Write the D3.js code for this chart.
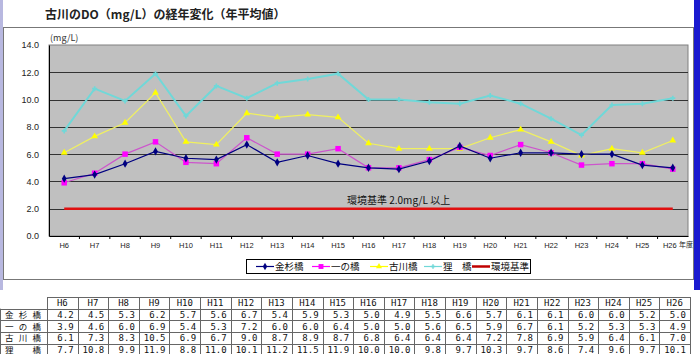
<!DOCTYPE html>
<html>
<head>
<meta charset="utf-8">
<style>
  body { margin: 0; background: #fff; font-family: "Noto Sans CJK JP", sans-serif; }
  svg { display: block; }
</style>
</head>
<body>
<div id="chart"></div>
<script src="https://d3js.org/d3.v7.min.js"></script>
<script>
// data
var years = ["H6","H7","H8","H9","H10","H11","H12","H13","H14","H15","H16","H17","H18","H19","H20","H21","H22","H23","H24","H25","H26"];
var kanasugi = [4.2,4.5,5.3,6.2,5.7,5.6,6.7,5.4,5.9,5.3,5.0,4.9,5.5,6.6,5.7,6.1,6.1,6.0,6.0,5.2,5.0];
var ichinohashi = [3.9,4.6,6.0,6.9,5.4,5.3,7.2,6.0,6.0,6.4,5.0,5.0,5.6,6.5,5.9,6.7,6.1,5.2,5.3,5.3,4.9];
var furukawa = [6.1,7.3,8.3,10.5,6.9,6.7,9.0,8.7,8.9,8.7,6.8,6.4,6.4,6.4,7.2,7.8,6.9,5.9,6.4,6.1,7.0];
var tanuki = [7.7,10.8,9.9,11.9,8.8,11.0,10.1,11.2,11.5,11.9,10.0,10.0,9.8,9.7,10.3,9.7,8.6,7.4,9.6,9.7,10.1];
var standard = 2.0;
var yTicks = [0,2,4,6,8,10,12,14];

var series = [
  { name: "金杉橋", values: kanasugi, line: "#000080", fill: "#000080", shape: "diamond" },
  { name: "一の橋", values: ichinohashi, line: "#cc55cc", fill: "#ff00ff", shape: "square" },
  { name: "古川橋", values: furukawa, line: "#f0f060", fill: "#ffff00", shape: "triangle" },
  { name: "狸　橋", values: tanuki, line: "#70d8d8", fill: "#70d8d8", shape: "star" }
];

var W = 700, H = 354;
var svg = d3.select("#chart").append("svg").attr("width", W).attr("height", H);

// background frames
svg.append("rect").attr("x", 0).attr("y", 0).attr("width", 3).attr("height", 290).attr("fill", "#b8b8e0");
svg.append("rect").attr("x", 694).attr("y", 0).attr("width", 6).attr("height", 290).attr("fill", "#1a1ad0");
svg.append("rect").attr("x", 3.5).attr("y", 27.5).attr("width", 690).attr("height", 252)
  .attr("fill", "#fff").attr("stroke", "#777");

svg.append("text").attr("x", 45).attr("y", 19)
  .attr("font-size", 12).attr("font-weight", "bold").attr("fill", "#222")
  .text("古川のDO（mg/L）の経年変化（年平均値）");

var plot = { left: 49, right: 688, top: 45, bottom: 236 };
var x = d3.scaleBand().domain(years).range([plot.left, plot.right]);
var y = d3.scaleLinear().domain([0, 14]).range([plot.bottom, plot.top]);
var cx = function(d, i) { return x(years[i]) + x.bandwidth() / 2; };

svg.append("rect").attr("x", plot.left).attr("y", plot.top)
  .attr("width", plot.right - plot.left).attr("height", plot.bottom - plot.top)
  .attr("fill", "#c0c0c0").attr("stroke", "#808080");

// gridlines
svg.append("g").selectAll("line").data(yTicks.filter(function(t) { return t > 0 && t < 14; }))
  .enter().append("line")
  .attr("x1", plot.left).attr("x2", plot.right)
  .attr("y1", function(d) { return Math.round(y(d)) + 0.5; })
  .attr("y2", function(d) { return Math.round(y(d)) + 0.5; })
  .attr("stroke", "#333").attr("stroke-width", 1);

// axes
var yAxis = svg.append("g").attr("transform", "translate(" + plot.left + ",0)")
  .call(d3.axisLeft(y).tickValues(yTicks).tickFormat(d3.format(".1f")).tickSize(0).tickPadding(10));
yAxis.select(".domain").attr("stroke", "#000");
yAxis.selectAll("text").attr("font-size", 9).attr("font-family", "Liberation Sans, sans-serif").attr("fill", "#222");

var xAxis = svg.append("g").attr("transform", "translate(0," + plot.bottom + ")")
  .call(d3.axisBottom(x).tickSize(0).tickPadding(7));
xAxis.select(".domain").attr("stroke", "#000");
xAxis.selectAll("text").attr("font-size", 7.5).attr("font-family", "Liberation Sans, sans-serif").attr("fill", "#222")
  .attr("dx", function(d) { return d === "H26" ? -3 : 0; });
svg.append("g").selectAll("line").data(years.slice(1)).enter().append("line")
  .attr("x1", function(d) { return x(d); }).attr("x2", function(d) { return x(d); })
  .attr("y1", plot.bottom).attr("y2", plot.bottom + 3).attr("stroke", "#000");

svg.append("text").attr("x", 679).attr("y", 247).attr("font-size", 7).attr("fill", "#222").text("年度");
svg.append("text").attr("x", 50).attr("y", 41).attr("font-size", 9).attr("fill", "#333").text("(mg/L)");

// standard line
svg.append("line")
  .attr("x1", x(years[0]) + x.bandwidth() / 2).attr("x2", x(years[years.length - 1]) + x.bandwidth() / 2)
  .attr("y1", y(standard)).attr("y2", y(standard))
  .attr("stroke", "#e01010").attr("stroke-width", 2.5);
svg.append("text").attr("x", 347).attr("y", 204).attr("font-size", 10).attr("fill", "#111")
  .text("環境基準 2.0mg/L 以上");

function symbolFor(shape, k) {
  k = k || 1;
  if (shape === "diamond") return d3.symbol().type(d3.symbolDiamond).size(20 * k);
  if (shape === "square") return d3.symbol().type(d3.symbolSquare).size(30 * k);
  if (shape === "triangle") return d3.symbol().type(d3.symbolTriangle).size(20 * k);
  return d3.symbol().type(d3.symbolCross).size(14 * k);
}

var line = d3.line().x(cx).y(function(d) { return y(d); });

// draw in reverse so 金杉橋 ends on top
series.slice().reverse().forEach(function(s) {
  var g = svg.append("g");
  g.append("path").datum(s.values).attr("d", line)
    .attr("fill", "none").attr("stroke", s.line).attr("stroke-width", s.shape === "star" ? 2 : 1.2);
  g.selectAll("path.pt").data(s.values).enter().append("path").attr("class", "pt")
    .attr("transform", function(d, i) { return "translate(" + cx(d, i) + "," + y(d) + ")"; })
    .attr("d", symbolFor(s.shape)())
    .attr("fill", s.fill);
});

// legend
var lg = svg.append("g");
lg.append("rect").attr("x", 246.5).attr("y", 259.5).attr("width", 284).attr("height", 14)
  .attr("fill", "#fff").attr("stroke", "#000");
var legendItems = series.map(function(s) { return { name: s.name, s: s }; });
legendItems.push({ name: "環境基準", s: null });
var lx = [256, 312, 370, 424, 472];
legendItems.forEach(function(it, i) {
  var ly = 266.5;
  lg.append("line").attr("x1", lx[i]).attr("x2", lx[i] + 18).attr("y1", ly).attr("y2", ly)
    .attr("stroke", it.s ? (it.s.shape === "diamond" ? "#000080" : it.s.fill) : "#c00000")
    .attr("stroke-width", it.s ? 1.2 : 2.5);
  if (it.s) {
    lg.append("path").attr("transform", "translate(" + (lx[i] + 9) + "," + ly + ")")
      .attr("d", symbolFor(it.s.shape, 0.8)()).attr("fill", it.s.fill);
  }
  lg.append("text").attr("x", lx[i] + 19).attr("y", ly + 3.5).attr("font-size", 9.5).attr("fill", "#111").text(it.name);
});

// table
var tTop = 297, rowH = 11.7, labelW = 47;
var colW = (W - 10 - labelW) / years.length;
var tx = d3.scaleBand().domain(years).range([labelW, labelW + colW * years.length]);
var tbl = svg.append("g").attr("font-family", "DejaVu Sans Mono, monospace").attr("font-size", 9).attr("fill", "#111");

for (var r = 0; r <= 5; r++) {
  tbl.append("line").attr("x1", r === 0 ? labelW : 0).attr("x2", tx.range()[1])
    .attr("y1", Math.round(tTop + r * rowH) + 0.5).attr("y2", Math.round(tTop + r * rowH) + 0.5)
    .attr("stroke", "#666");
}
tbl.append("line").attr("x1", 0.5).attr("x2", 0.5).attr("y1", tTop + rowH).attr("y2", H).attr("stroke", "#666");
years.concat(["end"]).forEach(function(yr, i) {
  var xx = Math.round(labelW + i * colW) + 0.5;
  tbl.append("line").attr("x1", xx).attr("x2", xx).attr("y1", tTop).attr("y2", H).attr("stroke", "#666");
});

tbl.selectAll("text.hd").data(years).enter().append("text").attr("class", "hd")
  .attr("x", function(d) { return tx(d) + tx.bandwidth() / 2; })
  .attr("y", tTop + rowH - 2.5).attr("text-anchor", "middle").text(function(d) { return d; });

series.forEach(function(s, r) {
  var yy = tTop + (r + 2) * rowH - 2.5;
  tbl.append("text").attr("x", 5).attr("y", yy).attr("font-family", "Noto Sans CJK JP, sans-serif")
    .attr("font-size", 8.5).attr("textLength", 36).attr("lengthAdjust", "spacing").text(s.name);
  tbl.selectAll(null).data(s.values).enter().append("text")
    .attr("x", function(d, i) { return tx(years[i]) + tx.bandwidth() - 4; })
    .attr("y", yy).attr("text-anchor", "end")
    .text(function(d) { return d3.format(".1f")(d); });
});
</script>
</body>
</html>
